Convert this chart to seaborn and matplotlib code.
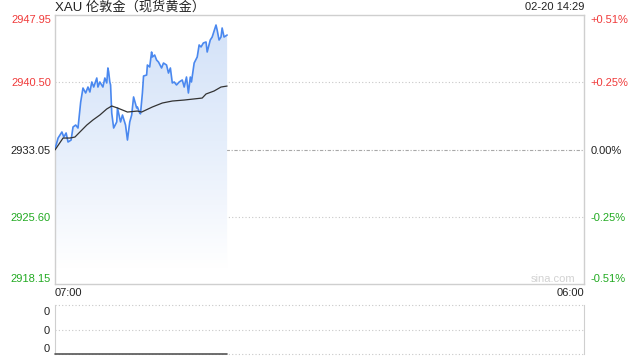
import numpy as np
import pandas as pd
import matplotlib
matplotlib.use("Agg")
import matplotlib.pyplot as plt
import seaborn as sns
from matplotlib.patches import Polygon
from matplotlib.colors import LinearSegmentedColormap

# ---------------- data (minutes after 07:00) ----------------
minutes = [0, 3, 8, 18, 23, 29, 34, 42, 47, 54, 60, 67, 73, 80, 86, 91, 96, 101,
           109, 112, 117, 125, 130, 135, 138, 140, 143, 145, 148, 153, 161, 163,
           171, 176, 184, 189, 195, 200, 205, 213, 215, 221, 223, 228, 231, 239,
           241, 247, 252, 254, 260, 265, 270, 278, 283, 291, 296, 301, 306, 311,
           317, 324, 332, 337, 343, 348, 353, 356, 363, 371, 376, 381, 387, 394,
           397, 405, 410, 420, 423, 428, 433, 436, 441, 449]
price = [2933.22, 2933.55, 2934.32, 2934.99, 2934.43, 2934.88, 2933.88, 2934.10,
         2935.54, 2935.76, 2935.43, 2938.31, 2939.86, 2939.31, 2939.97, 2939.42,
         2940.53, 2939.97, 2940.97, 2939.97, 2940.53, 2939.97, 2940.97, 2940.42,
         2942.08, 2941.64, 2940.53, 2940.20, 2937.09, 2935.43, 2936.10, 2937.65,
         2936.10, 2936.87, 2935.76, 2934.10, 2936.10, 2936.87, 2938.87, 2937.65,
         2937.76, 2937.09, 2937.00, 2939.31, 2941.19, 2941.30, 2942.41, 2942.19,
         2943.85, 2943.30, 2943.52, 2942.96, 2942.74, 2942.08, 2942.63, 2942.41,
         2941.52, 2942.08, 2940.42, 2940.53, 2940.20, 2940.53, 2940.75, 2939.97,
         2941.08, 2939.31, 2941.08, 2940.53, 2942.63, 2943.30, 2944.63, 2944.41,
         2944.85, 2944.96, 2943.85, 2945.18, 2945.51, 2946.84, 2946.29, 2945.18,
         2945.51, 2946.51, 2945.51, 2945.73]
avg_minutes = [0, 21, 39, 52, 65, 83, 99, 117, 135, 148, 163, 189, 215, 226, 254,
               280, 306, 337, 384, 394, 415, 433, 449]
avg_price = [2933.00, 2934.32, 2934.32, 2934.43, 2934.99, 2935.76, 2936.32,
             2936.87, 2937.54, 2937.87, 2937.65, 2937.20, 2937.31, 2937.20,
             2937.76, 2938.20, 2938.42, 2938.53, 2938.75, 2939.20, 2939.53,
             2939.97, 2940.08]
vol_minutes = [0, 449]
volume = [0, 0]

y_ticks = [2918.15, 2925.60, 2933.05, 2940.50, 2947.95]
y_tick_labels = ["2918.15", "2925.60", "2933.05", "2940.50", "2947.95"]
pct_labels = ["-0.51%", "-0.25%", "0.00%", "+0.25%", "+0.51%"]
vol_labels = ["0", "0", "0"]
x_tick_minutes = [0, 1380]
x_labels = ["07:00", "06:00"]
title = "XAU 伦敦金（现货黄金）"
stamp = "02-20 14:29"
watermark = "sina.com"

# ---------------- style ----------------
sns.set_style("white")
plt.rcParams["font.family"] = ["Liberation Sans", "Noto Sans CJK SC", "DejaVu Sans"]

RED = "#f03a3a"
GREEN = "#22aa22"
DARK = "#222222"
label_colors = [GREEN, GREEN, DARK, RED, RED]
LINE = "#4a88ef"
SPINE = "#cfcfcf"

fig = plt.figure(figsize=(6.4, 3.6), dpi=100)
ax = fig.add_axes([55 / 640, 1 - 284 / 360, 529 / 640, 269 / 360])

ylo, yhi = y_ticks[0], y_ticks[-1]

# gradient fill under the price line
df = pd.DataFrame({"minute": minutes, "price": price})
verts = list(zip(minutes, price)) + [(minutes[-1], ylo), (minutes[0], ylo)]
poly = Polygon(verts, closed=True, facecolor="none", edgecolor="none")
ax.add_patch(poly)
cmap = LinearSegmentedColormap.from_list(
    "g", [(0.0, "#ffffff"), (0.25, "#f2f6fd"), (0.5, "#e5eefb"), (1.0, "#d2e1f8")])
grad = np.linspace(1, 0, 256).reshape(-1, 1)
im = ax.imshow(grad, cmap=cmap, vmin=0, vmax=1, extent=[minutes[0], minutes[-1], ylo + 1.8, yhi],
               aspect="auto", origin="upper", zorder=1)
im.set_clip_path(poly)

# grid lines
for v in y_ticks[1:-1]:
    if v == y_ticks[2]:
        ax.axhline(v, color="#a8a8a8", lw=0.8, ls=(0, (3, 1.5, 1, 1.5)), zorder=0.5)
    else:
        ax.axhline(v, color="#c8c8c8", lw=0.8, ls=(0, (1, 2)), zorder=0.5)

sns.lineplot(data=df, x="minute", y="price", ax=ax, color=LINE, lw=1.2, zorder=3)
sns.lineplot(x=avg_minutes, y=avg_price, ax=ax, color="#333333", lw=0.9, zorder=4)

ax.set_xlim(0, 1380)
ax.set_ylim(ylo, yhi)
ax.set_xlabel("")
ax.set_ylabel("")
for s in ax.spines.values():
    s.set_color(SPINE)
    s.set_linewidth(1)

ax.set_yticks(y_ticks)
ax.set_yticklabels(y_tick_labels)
ax.tick_params(axis="y", length=0, pad=3, labelsize=8)
ax.set_xticks(x_tick_minutes)
ax.set_xticklabels(x_labels)
ax.tick_params(axis="x", length=0, pad=3, labelsize=8, labelcolor=DARK)
xl = ax.get_xticklabels()
xl[0].set_ha("left")
xl[-1].set_ha("right")
yl = ax.get_yticklabels()
for t, c in zip(yl, label_colors):
    t.set_color(c)
yl[0].set_va("bottom")
yl[-1].set_va("top")

ax2 = ax.twinx()
ax2.set_ylim(ylo, yhi)
ax2.set_yticks(y_ticks)
ax2.set_yticklabels(pct_labels)
ax2.tick_params(axis="y", length=0, pad=4.5, labelsize=8)
for s in ax2.spines.values():
    s.set_visible(False)
yl2 = ax2.get_yticklabels()
for t, c in zip(yl2, label_colors):
    t.set_color(c)
yl2[0].set_va("bottom")
yl2[-1].set_va("top")

ax.text(0.941, 0.02, watermark, transform=ax.transAxes, ha="center", va="center",
        fontsize=8, color="#d2d2d2")

fig.text(55 / 640, 1 - 7 / 360, title, ha="left", va="center", fontsize=9.5, color=DARK)
fig.text(584 / 640, 1 - 7 / 360, stamp, ha="right", va="center", fontsize=8, color=DARK)

# ---------------- volume panel ----------------
ax3 = fig.add_axes([55 / 640, 1 - 354 / 360, 529 / 640, 49 / 360])
ax3.set_xlim(0, 1380)
ax3.set_ylim(0, 1)
for v in (0.5, 1.0, 0.0):
    ax3.axhline(v, color="#c8c8c8", lw=0.8, ls=(0, (1, 2)), zorder=0.5, clip_on=False)
sns.lineplot(x=vol_minutes, y=volume, ax=ax3, color="#555555", lw=1.2, zorder=3)
for l in ax3.lines:
    l.set_clip_on(False)
ax3.set_xticks([])
ax3.set_yticks([0.12, 0.5, 0.88])
ax3.set_yticklabels(vol_labels)
ax3.tick_params(axis="y", length=0, pad=4, labelsize=8, labelcolor=DARK)
ax3.set_xlabel("")
ax3.set_ylabel("")
ax3.spines["top"].set_visible(False)
ax3.spines["bottom"].set_visible(False)
ax3.spines["left"].set_color(SPINE)
ax3.spines["right"].set_color(SPINE)

fig.savefig("out.png", dpi=100)
